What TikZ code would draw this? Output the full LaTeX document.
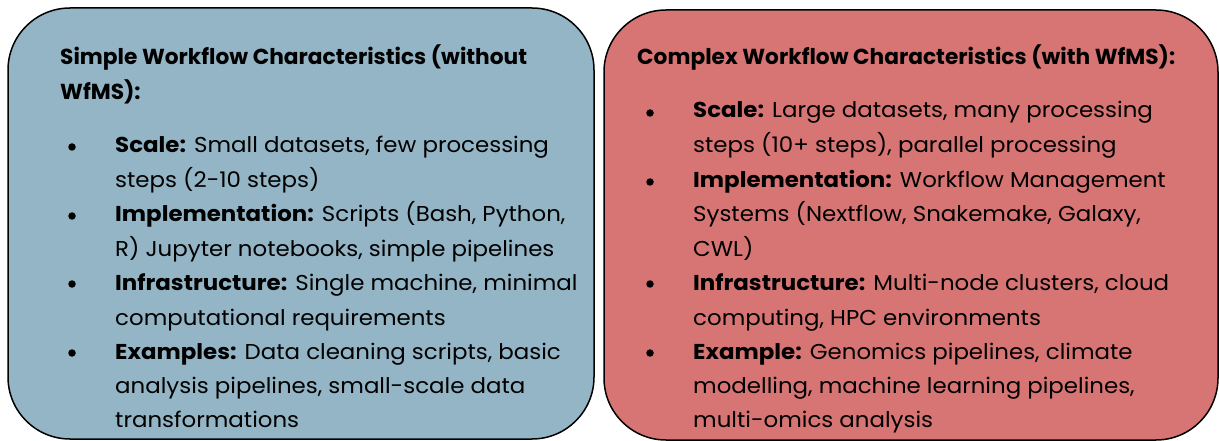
\documentclass[tikz,border=0pt]{standalone}
\usepackage{fontspec}
\setmainfont{Poppins}
\newfontfamily\bodyfont[FakeStretch=1.065]{Poppins}
\definecolor{simplefill}{RGB}{147,181,198}
\definecolor{complexfill}{RGB}{215,117,116}
\tikzset{
  panel/.style={draw=black, line width=1.5pt, rounded corners=62pt},
  txt/.style={anchor=base west, inner sep=0pt, font=\bodyfont\fontsize{21.5}{26}\selectfont},
  ttl/.style={anchor=base west, inner sep=0pt, font=\fontsize{21.7}{26}\selectfont\bfseries},
  dot/.style={circle, fill=black, inner sep=0pt, minimum size=7.5pt},
}
\begin{document}
\begin{tikzpicture}[x=1pt,y=-1pt]
\useasboundingbox (0,0) rectangle (1219,441);
% panels
\draw[panel, fill=simplefill] (8,8) rectangle (594,439);
\draw[panel, fill=complexfill] (604,10) rectangle (1218,440);

% simple workflow panel
\node[ttl] (st1) at (60,65) {Simple Workflow Characteristics (without};
\node[ttl] (st2) at (60,100) {WfMS):};
\foreach \y/\n in {147/a,216/b,284/c,353/d} \node[dot] (sb\n) at (72,\y) {};
\node[txt] (s1) at (115,153) {\textbf{Scale:} Small datasets, few processing};
\node[txt] (s2) at (115,188) {steps (2-10 steps)};
\node[txt] (s3) at (115,222) {\textbf{Implementation:} Scripts (Bash, Python,};
\node[txt] (s4) at (115,256) {R) Jupyter notebooks, simple pipelines};
\node[txt] (s5) at (115,290) {\textbf{Infrastructure:} Single machine, minimal};
\node[txt] (s6) at (115,325) {computational requirements};
\node[txt] (s7) at (115,359) {\textbf{Examples:} Data cleaning scripts, basic};
\node[txt] (s8) at (115,393) {analysis pipelines, small-scale data};
\node[txt] (s9) at (115,427) {transformations};

% complex workflow panel
\node[ttl] (ct1) at (637,65) {Complex Workflow Characteristics (with WfMS):};
\foreach \y/\n in {113/a,182/b,284/c,353/d} \node[dot] (cb\n) at (650,\y) {};
\node[txt] (c1) at (693,118) {\textbf{Scale:} Large datasets, many processing};
\node[txt] (c2) at (693,153) {steps (10+ steps), parallel processing};
\node[txt] (c3) at (693,188) {\textbf{Implementation:} Workflow Management};
\node[txt] (c4) at (693,222) {Systems (Nextflow, Snakemake, Galaxy,};
\node[txt] (c5) at (693,256) {CWL)};
\node[txt] (c6) at (693,290) {\textbf{Infrastructure:} Multi-node clusters, cloud};
\node[txt] (c7) at (693,325) {computing, HPC environments};
\node[txt] (c8) at (693,359) {\textbf{Example:} Genomics pipelines, climate};
\node[txt] (c9) at (693,393) {modelling, machine learning pipelines,};
\node[txt] (c10) at (693,427) {multi-omics analysis};
\end{tikzpicture}
\end{document}
